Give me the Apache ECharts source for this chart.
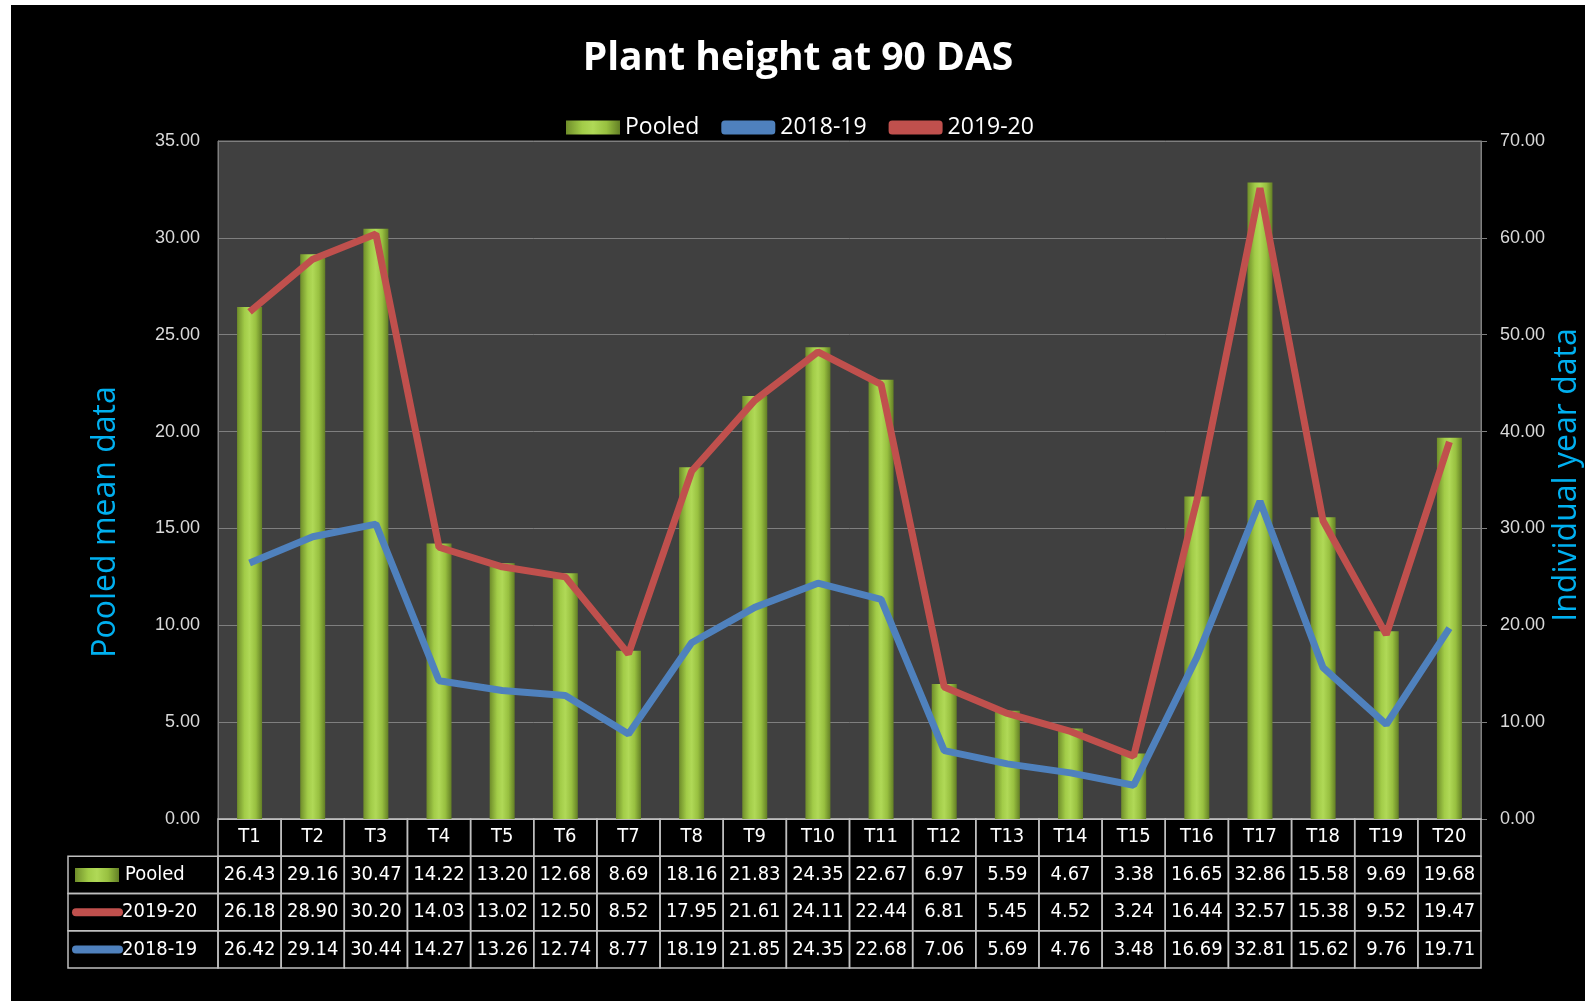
<!DOCTYPE html>
<html>
<head>
<meta charset="utf-8">
<script src="https://cdn.jsdelivr.net/npm/echarts@6/dist/echarts.min.js"></script>
<style>
  html, body { margin: 0; padding: 0; background: #fff; }
  #chart { position: absolute; left: 11px; top: 5px; width: 1574px; height: 996px; background: #000; }
</style>
</head>
<body>
<div id="chart"></div>
<script>
var categories = ['T1','T2','T3','T4','T5','T6','T7','T8','T9','T10','T11','T12','T13','T14','T15','T16','T17','T18','T19','T20'];
var pooled = [26.43, 29.16, 30.47, 14.22, 13.20, 12.68, 8.69, 18.16, 21.83, 24.35, 22.67, 6.97, 5.59, 4.67, 3.38, 16.65, 32.86, 15.58, 9.69, 19.68];
var y2019_20 = [26.18, 28.90, 30.20, 14.03, 13.02, 12.50, 8.52, 17.95, 21.61, 24.11, 22.44, 6.81, 5.45, 4.52, 3.24, 16.44, 32.57, 15.38, 9.52, 19.47];
var y2018_19 = [26.42, 29.14, 30.44, 14.27, 13.26, 12.74, 8.77, 18.19, 21.85, 24.35, 22.68, 7.06, 5.69, 4.76, 3.48, 16.69, 32.81, 15.62, 9.76, 19.71];
var tableRows = ['head', 'Pooled', '2019-20', '2018-19'];

var chart = echarts.init(document.getElementById('chart'));

var barColor = new echarts.graphic.LinearGradient(0, 0, 1, 0, [
  { offset: 0, color: '#6f8d2a' },
  { offset: 0.3, color: '#a2cc48' },
  { offset: 0.5, color: '#b0d957' },
  { offset: 0.75, color: '#98c040' },
  { offset: 1, color: '#637f25' }
]);
var red = '#c0504d', blue = '#4f81bd';
var cellFont = '20px "DejaVu Sans Condensed", "Liberation Sans Narrow", sans-serif';

// table cells: [col, row, text]
var tableData = [];
var rowValues = [null, pooled, y2019_20, y2018_19];
for (var r = 0; r < tableRows.length; r++) {
  for (var c = 0; c < categories.length; c++) {
    tableData.push([c, r, rowValues[r] ? rowValues[r][c].toFixed(2) : '']);
  }
}

function legendCell(row, x0, y0, w, h) {
  var cy = y0 + h / 2;
  var kids = [{
    type: 'rect',
    shape: { x: 57, y: y0, width: x0 - 57, height: h },
    style: { fill: 'none', stroke: '#bfbfbf', lineWidth: 1.5 }
  }];
  if (row === 'Pooled') {
    kids.push({ type: 'rect', shape: { x: 64, y: cy - 7, width: 44, height: 14 },
      style: { fill: barColor } });
    kids.push({ type: 'text', style: { text: 'Pooled', x: 114, y: cy, align: 'left', verticalAlign: 'middle',
      fill: '#fff', font: cellFont } });
  } else {
    kids.push({ type: 'line', shape: { x1: 65, y1: cy, x2: 108, y2: cy },
      style: { stroke: row === '2019-20' ? red : blue, lineWidth: 8, lineCap: 'round' } });
    kids.push({ type: 'text', style: { text: row, x: 111, y: cy, align: 'left', verticalAlign: 'middle',
      fill: '#fff', font: cellFont } });
  }
  return kids;
}

var option = {
  backgroundColor: '#000',
  title: {
    text: 'Plant height at 90 DAS',
    left: 'center',
    top: 29,
    textStyle: { color: '#fff', fontSize: 39, fontWeight: 'bold', fontFamily: '"Open Sans", sans-serif' }
  },
  legend: {
    left: 550,
    top: 106,
    itemWidth: 54,
    itemHeight: 14,
    itemGap: 22,
    textStyle: { color: '#fff', fontSize: 23, fontFamily: '"Open Sans", sans-serif' },
    data: [
      { name: 'Pooled', icon: 'rect' },
      { name: '2018-19', icon: 'roundRect' },
      { name: '2019-20', icon: 'roundRect' }
    ]
  },
  grid: [
    { left: 207, right: 104, top: 136, bottom: 182, show: true, backgroundColor: '#404040', borderColor: '#7f7f7f', borderWidth: 1 },
    { left: 207, right: 104, top: 814, bottom: 33 }
  ],
  xAxis: [
    {
      type: 'category', data: categories, gridIndex: 0,
      axisLine: { lineStyle: { color: '#bfbfbf' } },
      axisTick: { show: false },
      axisLabel: { color: '#fff', margin: 8, fontSize: 20, fontFamily: '"DejaVu Sans Condensed", "Liberation Sans Narrow", sans-serif' }
    },
    { type: 'category', data: categories, gridIndex: 1, show: false }
  ],
  yAxis: [
    {
      type: 'value', min: 0, max: 35, interval: 5, gridIndex: 0,
      axisLine: { show: true, lineStyle: { color: '#7f7f7f' } },
      axisTick: { show: false },
      splitLine: { lineStyle: { color: '#7f7f7f', width: 1 } },
      axisLabel: { color: '#d9d9d9', fontSize: 18, margin: 18, fontFamily: '"Liberation Sans", sans-serif',
        formatter: function (v) { return v.toFixed(2); } }
    },
    {
      type: 'value', min: 0, max: 70, interval: 10, gridIndex: 0, position: 'right',
      axisLine: { show: true, lineStyle: { color: '#7f7f7f' } },
      axisTick: { show: true, length: 6, lineStyle: { color: '#7f7f7f' } },
      splitLine: { show: false },
      axisLabel: { color: '#d9d9d9', fontSize: 18, margin: 19, fontFamily: '"Liberation Sans", sans-serif',
        formatter: function (v) { return v.toFixed(2); } }
    },
    { type: 'category', data: tableRows, gridIndex: 1, inverse: true, show: false }
  ],
  graphic: [
    { type: 'text', x: 95, y: 517, rotation: Math.PI / 2,
      style: { text: 'Pooled mean data', align: 'center', verticalAlign: 'middle', fill: '#00b0f0',
        font: '32px "Open Sans", sans-serif' } },
    { type: 'text', x: 1556, y: 470, rotation: Math.PI / 2,
      style: { text: 'Individual year data', align: 'center', verticalAlign: 'middle', fill: '#00b0f0',
        font: '32px "Open Sans", sans-serif' } }
  ],
  series: [
    {
      name: 'Pooled', type: 'bar', xAxisIndex: 0, yAxisIndex: 0, barWidth: 25,
      itemStyle: { color: barColor },
      data: pooled
    },
    {
      name: '2018-19', type: 'line', xAxisIndex: 0, yAxisIndex: 1,
      symbol: 'none', color: blue,
      lineStyle: { color: blue, width: 7 },
      data: y2018_19
    },
    {
      name: '2019-20', type: 'line', xAxisIndex: 0, yAxisIndex: 0,
      symbol: 'none', color: red,
      lineStyle: { color: red, width: 7 },
      data: y2019_20
    },
    {
      name: 'table', type: 'custom', xAxisIndex: 1, yAxisIndex: 2, clip: false, silent: true,
      data: tableData,
      renderItem: function (params, api) {
        var item = tableData[params.dataIndex];
        var p = api.coord([item[0], item[1]]);
        var s = api.size([1, 1]);
        var x0 = p[0] - s[0] / 2, y0 = p[1] - s[1] / 2;
        var kids = [{
          type: 'rect',
          shape: { x: x0, y: y0, width: s[0], height: s[1] },
          style: { fill: 'none', stroke: '#bfbfbf', lineWidth: 1.5 }
        }];
        if (item[2]) {
          kids.push({ type: 'text', style: { text: item[2], x: p[0], y: p[1], align: 'center', verticalAlign: 'middle',
            fill: '#fff', font: cellFont } });
        }
        if (item[0] === 0 && item[1] > 0) {
          kids = kids.concat(legendCell(tableRows[item[1]], x0, y0, s[0], s[1]));
        }
        return { type: 'group', children: kids };
      }
    }
  ]
};

chart.setOption(option);
</script>
</body>
</html>
